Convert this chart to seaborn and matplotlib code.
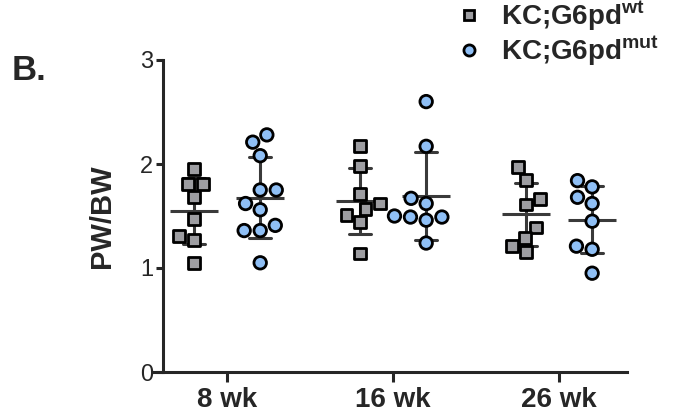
import matplotlib
matplotlib.use("Agg")
import matplotlib.pyplot as plt
from matplotlib.lines import Line2D
import pandas as pd
import seaborn as sns

# PW/BW ratio per mouse
timepoints = ["8 wk", "16 wk", "26 wk"]
genotypes = ["wt", "mut"]

wt_8 = [1.95, 1.81, 1.81, 1.68, 1.47, 1.31, 1.27, 1.05]
mut_8 = [2.28, 2.21, 2.08, 1.75, 1.75, 1.62, 1.56, 1.41, 1.36, 1.36, 1.05]
wt_16 = [2.17, 1.98, 1.71, 1.62, 1.57, 1.51, 1.44, 1.14]
mut_16 = [2.60, 2.17, 1.67, 1.62, 1.50, 1.49, 1.49, 1.46, 1.24]
wt_26 = [1.97, 1.85, 1.66, 1.61, 1.39, 1.29, 1.21, 1.15]
mut_26 = [1.84, 1.78, 1.68, 1.62, 1.45, 1.21, 1.18, 0.95]

legend_labels = [r"KC;G6pd$^{\mathbf{wt}}$", r"KC;G6pd$^{\mathbf{mut}}$"]

groups = {
    ("8 wk", "wt"): wt_8, ("8 wk", "mut"): mut_8,
    ("16 wk", "wt"): wt_16, ("16 wk", "mut"): mut_16,
    ("26 wk", "wt"): wt_26, ("26 wk", "mut"): mut_26,
}
rows = []
for (tp, geno), vals in groups.items():
    for v in vals:
        rows.append({"time": tp, "geno": geno, "pwbw": v})
df = pd.DataFrame(rows)

sns.set_style("ticks")
plt.rcParams["font.family"] = ["Liberation Sans", "DejaVu Sans"]
plt.rcParams["mathtext.fontset"] = "custom"
plt.rcParams["mathtext.bf"] = "Liberation Sans:bold"
plt.rcParams["mathtext.rm"] = "Liberation Sans:bold"

gray = "#9d9da1"
blue = "#8fbff5"
line_c = "#3a3a3a"

fig = plt.figure(figsize=(6.81, 4.19), dpi=100)
ax = fig.add_axes([153 / 681, 1 - 372 / 419, (627 - 153) / 681, (372 - 60) / 419])

# mean +/- SD
sns.pointplot(data=df, x="time", y="pwbw", hue="geno", order=timepoints,
              hue_order=genotypes, estimator="mean", errorbar="sd",
              dodge=0.4, capsize=0.135, markers="_", linestyle="none",
              palette={"wt": line_c, "mut": line_c}, markersize=34,
              markeredgewidth=2.2, err_kws={"linewidth": 2.2},
              legend=False, ax=ax)

# individual mice
for geno, mk, fc, sz in [("wt", "s", gray, 8.5), ("mut", "o", blue, 9)]:
    sns.swarmplot(data=df[df["geno"] == geno], x="time", y="pwbw", hue="geno",
                  order=timepoints, hue_order=genotypes, dodge=True,
                  marker=mk, palette={"wt": fc, "mut": fc}, size=sz,
                  edgecolor="black", linewidth=2, legend=False, ax=ax,
                  zorder=3, warn_thresh=1)

ax.set_xlim(-0.446, 2.41)
ax.set_ylim(0, 3)
ax.set_yticks([0, 1, 2, 3])
ax.spines["left"].set_position(("data", -0.386))
ax.spines["top"].set_visible(False)
ax.spines["right"].set_visible(False)
for s in ["left", "bottom"]:
    ax.spines[s].set_linewidth(2.2)
ax.tick_params(axis="y", length=5, width=2.2, labelsize=17, pad=2)
ax.tick_params(axis="x", length=7, width=2.2, labelsize=20, pad=4)
for lab in ax.get_xticklabels():
    lab.set_fontweight("bold")
ax.set_xlabel("")
ax.set_ylabel("PW/BW", fontsize=21, fontweight="bold", labelpad=17)

handles = [
    Line2D([], [], marker="s", ls="none", mfc=gray, mec="black", ms=7.5, mew=2),
    Line2D([], [], marker="o", ls="none", mfc=blue, mec="black", ms=8, mew=2),
]
fig.legend(handles, legend_labels, loc="upper left",
           bbox_to_anchor=(444 / 681, 1.03), frameon=False,
           prop={"weight": "bold", "size": 20}, handlelength=1.0,
           handletextpad=0.65, labelspacing=0.0, borderaxespad=0)

fig.text(12 / 681, 1 - 80 / 419, "B.", fontsize=25, fontweight="bold",
         va="baseline", ha="left")

fig.savefig("out.png", dpi=100)
